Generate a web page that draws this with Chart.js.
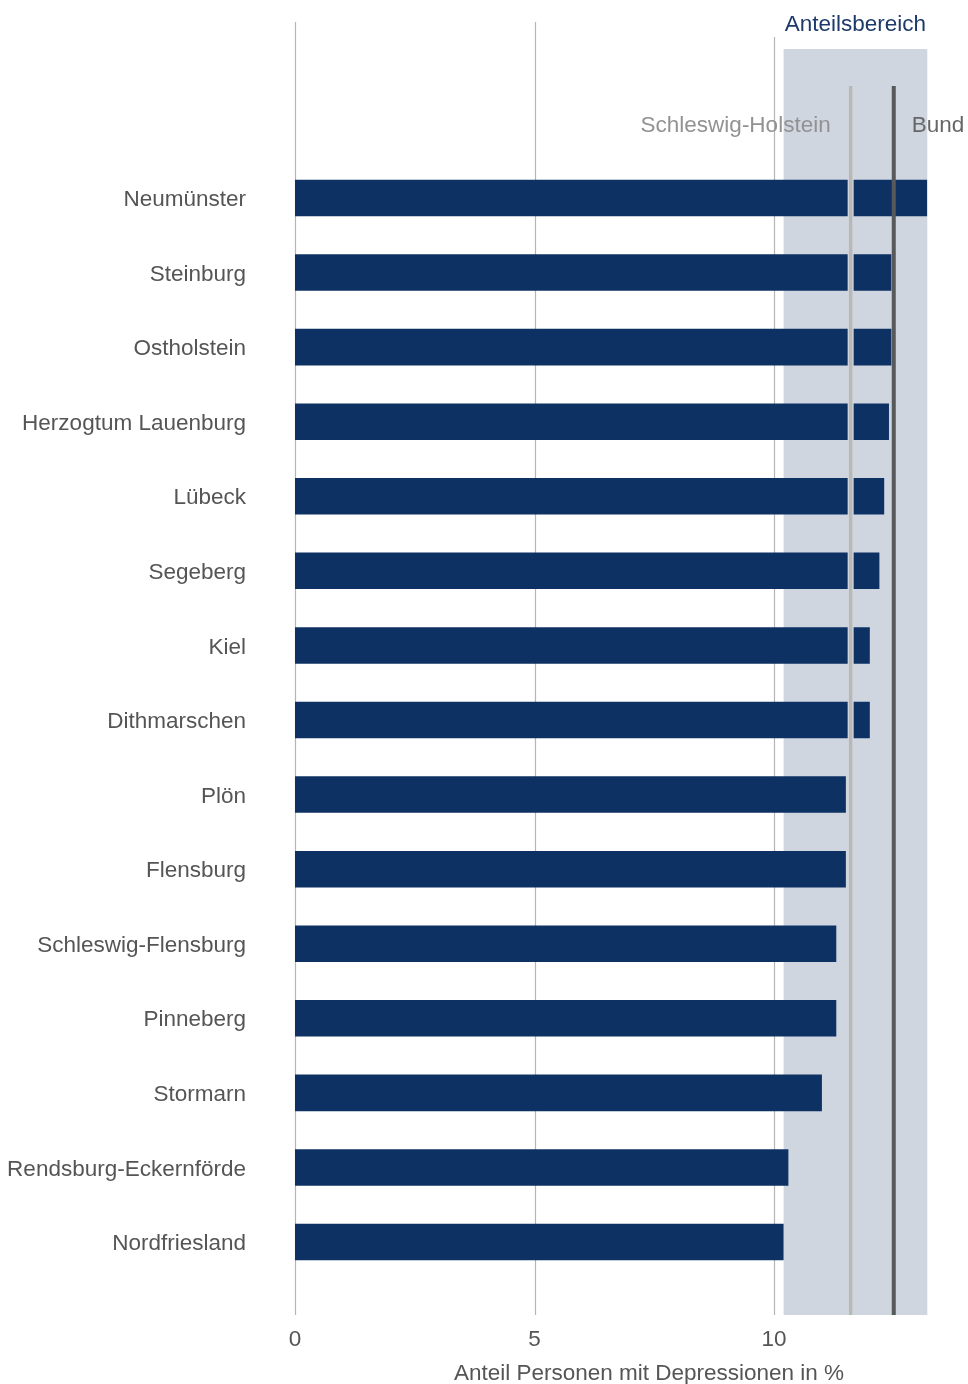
<!DOCTYPE html>
<html lang="de">
<head>
<meta charset="utf-8">
<title>Anteil Personen mit Depressionen</title>
<script src="https://cdn.jsdelivr.net/npm/chart.js@4.4.1/dist/chart.umd.min.js"></script>
<style>
    html, body { margin: 0; padding: 0; background: #fff; }
    canvas { display: block; }
</style>
</head>
<body>
<canvas id="grafica-kreise" width="968" height="1384"></canvas>
<script>
// Kreise und kreisfreie Städte, absteigend sortiert
const kreise = [
    "Neumünster", "Steinburg", "Ostholstein", "Herzogtum Lauenburg", "Lübeck",
    "Segeberg", "Kiel", "Dithmarschen", "Plön", "Flensburg",
    "Schleswig-Flensburg", "Pinneberg", "Stormarn", "Rendsburg-Eckernförde", "Nordfriesland"
];
// Anteil Personen mit Depressionen in %
const anteile = [13.2, 12.45, 12.45, 12.4, 12.3, 12.2, 12.0, 12.0, 11.5, 11.5, 11.3, 11.3, 11.0, 10.3, 10.2];
const xTicks = [0, 5, 10];
// Spannweite der Kreiswerte und Referenzwerte
const anteilsbereich = [10.2, 13.2];
const wertSH = 11.6;
const wertBund = 12.5;

const FONT = '"Liberation Sans", Arial, sans-serif';
const FONT_SIZE = 22.5;

// Hintergrund: Anteilsbereich + Gitterlinien
const hintergrund = {
    id: 'hintergrund',
    beforeDatasetsDraw(chart) {
        const ctx = chart.ctx;
        const x = chart.scales.x;
        const x0 = x.getPixelForValue(anteilsbereich[0]);
        const x1 = x.getPixelForValue(anteilsbereich[1]);
        ctx.save();
        ctx.fillStyle = '#cfd6e0';
        ctx.fillRect(x0, 49, x1 - x0, 1315 - 49);

        ctx.strokeStyle = '#b5b5b5';
        ctx.lineWidth = 1.2;
        xTicks.forEach(v => {
            const px = Math.round(x.getPixelForValue(v)) + 0.5;
            // Linie neben dem Bereich beginnt unter der Überschrift
            const top = Math.abs(px - x0) < 20 ? 37 : 22;
            ctx.beginPath();
            ctx.moveTo(px, top);
            ctx.lineTo(px, 1315);
            ctx.stroke();
        });
        ctx.restore();
    },
    afterDatasetsDraw(chart) {
        const ctx = chart.ctx;
        const x = chart.scales.x;
        const x0 = x.getPixelForValue(anteilsbereich[0]);
        const x1 = x.getPixelForValue(anteilsbereich[1]);
        const pSH = x.getPixelForValue(wertSH);
        const pBund = x.getPixelForValue(wertBund);
        ctx.save();

        // Schleswig-Holstein (hell, mit Aussparung in den Balken)
        ctx.strokeStyle = '#d2d7de';
        ctx.lineWidth = 6;
        ctx.beginPath(); ctx.moveTo(pSH, 86); ctx.lineTo(pSH, 1315); ctx.stroke();
        ctx.strokeStyle = '#b8b8b8';
        ctx.lineWidth = 3.5;
        ctx.beginPath(); ctx.moveTo(pSH, 86); ctx.lineTo(pSH, 1315); ctx.stroke();

        // Bund
        ctx.strokeStyle = '#58595b';
        ctx.lineWidth = 4;
        ctx.beginPath(); ctx.moveTo(pBund, 86); ctx.lineTo(pBund, 1315); ctx.stroke();

        ctx.font = FONT_SIZE + 'px ' + FONT;
        ctx.textBaseline = 'middle';

        ctx.fillStyle = '#1d3a6a';
        ctx.textAlign = 'center';
        ctx.fillText('Anteilsbereich', (x0 + x1) / 2, 25);

        ctx.fillStyle = '#929292';
        ctx.textAlign = 'right';
        ctx.fillText('Schleswig-Holstein', pSH - 20, 126);

        ctx.fillStyle = '#666666';
        ctx.textAlign = 'left';
        ctx.fillText('Bund', pBund + 18, 126);

        // Achsentitel
        ctx.fillStyle = '#555555';
        ctx.textAlign = 'center';
        ctx.fillText('Anteil Personen mit Depressionen in %', 649, 1374);
        ctx.restore();
    }
};

const ctx = document.getElementById("grafica-kreise").getContext("2d");

new Chart(ctx, {
    type: "bar",
    data: {
        labels: kreise,
        datasets: [{
            label: "Anteil Personen mit Depressionen in %",
            data: anteile,
            backgroundColor: "#0e3163",
            borderWidth: 0,
            barPercentage: 1,
            categoryPercentage: 0.49
        }]
    },
    options: {
        indexAxis: 'y',
        responsive: false,
        devicePixelRatio: 1,
        animation: false,
        layout: {
            padding: { top: 160.7, right: 40.7, bottom: 0, left: 0 }
        },
        scales: {
            x: {
                min: 0,
                max: 13.2,
                grid: { display: false },
                border: { display: false },
                afterBuildTicks: (scale) => {
                    scale.ticks = xTicks.map(v => ({ value: v }));
                },
                afterFit: (scale) => {
                    scale.height = 1384 - 1279.3;
                },
                ticks: {
                    color: '#555555',
                    padding: 39,
                    font: { family: FONT, size: FONT_SIZE }
                }
            },
            y: {
                grid: { display: false },
                border: { display: false },
                afterFit: (scale) => {
                    scale.width = 295;
                },
                ticks: {
                    color: '#555555',
                    padding: 41,
                    labelOffset: 2,
                    font: { family: FONT, size: FONT_SIZE }
                }
            }
        },
        plugins: {
            legend: { display: false },
            tooltip: { enabled: false }
        }
    },
    plugins: [hintergrund]
});
</script>
</body>
</html>
